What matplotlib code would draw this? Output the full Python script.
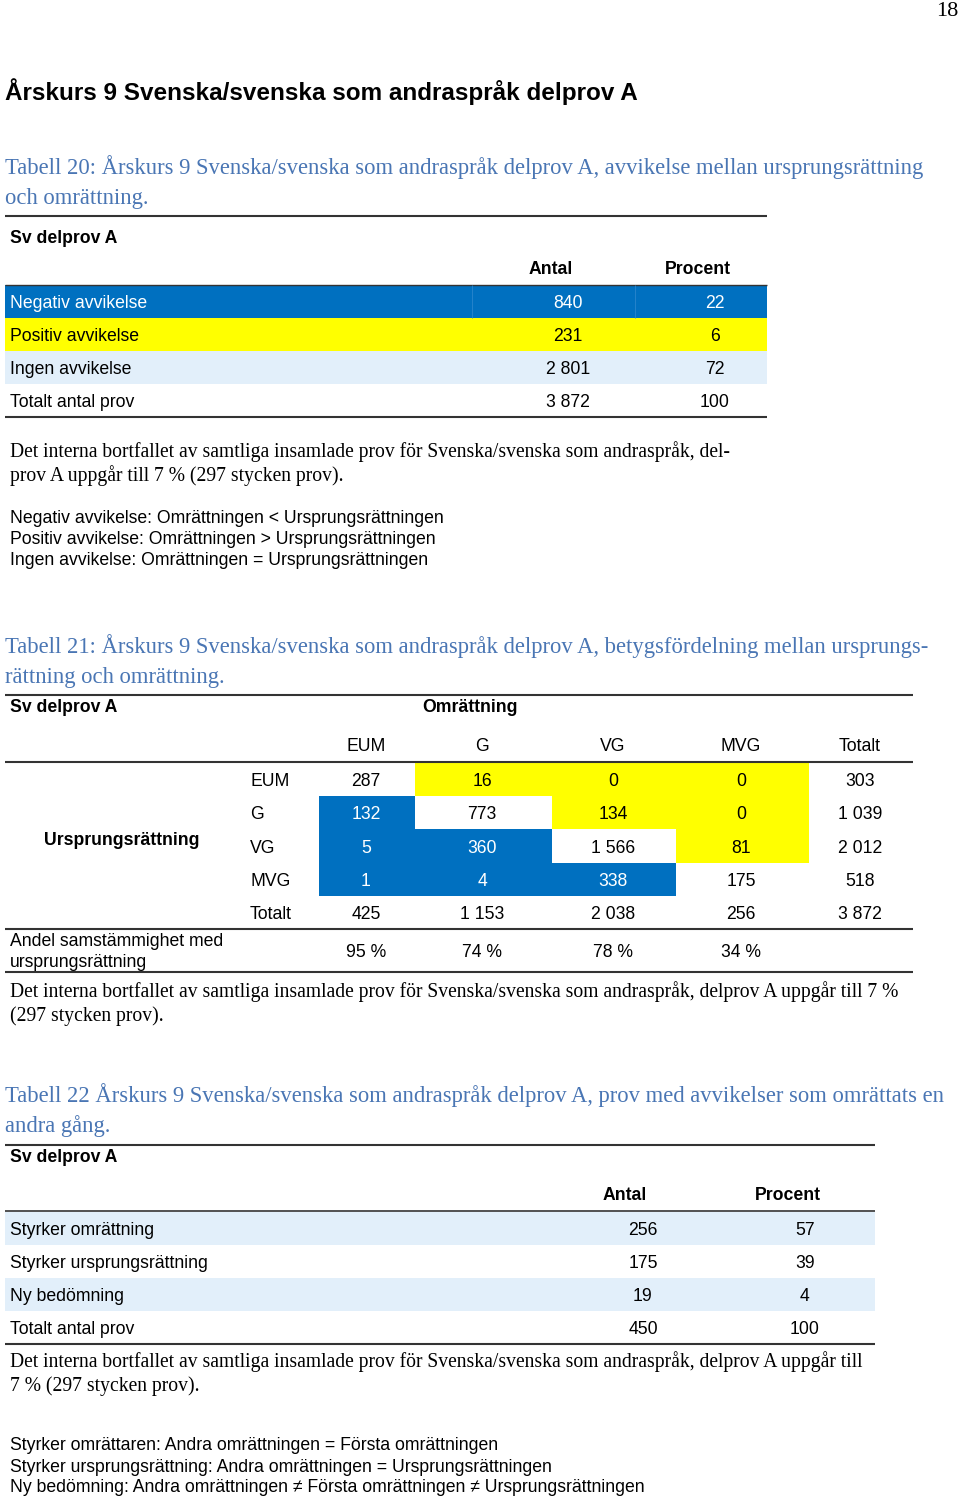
import matplotlib.pyplot as plt
from matplotlib.patches import Rectangle

SANS = ['Liberation Sans', 'DejaVu Sans']
SERIF = ['Liberation Serif', 'DejaVu Serif']
BLUE = '#0070C0'
YELLOW = '#FFFF00'
LIGHT = '#E2EFFA'
CAPTION = '#4A76B4'
RULE = '#333333'

### page texts ###
page_no = "18"
heading = "Årskurs 9 Svenska/svenska som andraspråk delprov A"
cap20 = ["Tabell 20: Årskurs 9 Svenska/svenska som andraspråk delprov A, avvikelse mellan ursprungsrättning",
         "och omrättning."]
body20 = ["Det interna bortfallet av samtliga insamlade prov för Svenska/svenska som andraspråk, del-",
          "prov A uppgår till 7 % (297 stycken prov)."]
notes20 = ["Negativ avvikelse: Omrättningen < Ursprungsrättningen",
           "Positiv avvikelse: Omrättningen > Ursprungsrättningen",
           "Ingen avvikelse: Omrättningen = Ursprungsrättningen"]
cap21 = ["Tabell 21: Årskurs 9 Svenska/svenska som andraspråk delprov A, betygsfördelning mellan ursprungs-",
         "rättning och omrättning."]
body21 = ["Det interna bortfallet av samtliga insamlade prov för Svenska/svenska som andraspråk, delprov A uppgår till 7 %",
          "(297 stycken prov)."]
cap22 = ["Tabell 22 Årskurs 9 Svenska/svenska som andraspråk delprov A, prov med avvikelser som omrättats en",
         "andra gång."]
body22 = ["Det interna bortfallet av samtliga insamlade prov för Svenska/svenska som andraspråk, delprov A uppgår till",
          "7 % (297 stycken prov)."]
notes22 = ["Styrker omrättaren: Andra omrättningen = Första omrättningen",
           "Styrker ursprungsrättning: Andra omrättningen = Ursprungsrättningen",
           "Ny bedömning: Andra omrättningen ≠ Första omrättningen ≠ Ursprungsrättningen"]

### table data ###
t20_labels = ["Negativ avvikelse", "Positiv avvikelse", "Ingen avvikelse", "Totalt antal prov"]
t20_antal = [840, 231, 2801, 3872]
t20_procent = [22, 6, 72, 100]

grades = ["EUM", "G", "VG", "MVG"]
t21_matrix = [[287, 16, 0, 0],
              [132, 773, 134, 0],
              [5, 360, 1566, 81],
              [1, 4, 338, 175]]
t21_row_tot = [303, 1039, 2012, 518]
t21_col_tot = [425, 1153, 2038, 256]
t21_total = 3872
t21_agree = [95, 74, 78, 34]

t22_labels = ["Styrker omrättning", "Styrker ursprungsrättning", "Ny bedömning", "Totalt antal prov"]
t22_antal = [256, 175, 19, 450]
t22_procent = [57, 39, 4, 100]

### row fills (style) ###
t20_fills = [BLUE, YELLOW, LIGHT, 'white']
t22_fills = [LIGHT, 'white', LIGHT, 'white']

TS = 12.7   # table font size
DY = 2      # small downward nudge for text centres


def fmt(n):
    return f"{n:,}".replace(",", " ")


fig = plt.figure(figsize=(9.6, 14.99), dpi=100)
ax = fig.add_axes([0, 0, 1, 1])
ax.set_xlim(0, 960)
ax.set_ylim(1499, 0)
ax.axis('off')
renderer = fig.canvas.get_renderer()


def fitted_size(s, width, family, weight='normal'):
    t = ax.text(0, 0, s, fontsize=10, family=family, weight=weight)
    w = t.get_window_extent(renderer).width
    t.remove()
    return 10 * width / w


def txt(x, y, s, size=TS, family=SANS, **kw):
    kw.setdefault('va', 'center')
    return ax.text(x, y + DY, s, fontsize=size, family=family, **kw)


def rule(y, x0, x1, lw=1.5):
    ax.hlines(y, x0, x1, color=RULE, lw=lw)


head_size = fitted_size(heading, 632, SANS, 'bold')
cap_size = fitted_size(cap20[0], 921, SERIF)
body_size = fitted_size(body20[0], 720, SERIF)

txt(958, 9, page_no, size=16, family=SERIF, ha='right')
txt(5, 90, heading, size=head_size, weight='bold')

### Tabell 20 ###
for k, line in enumerate(cap20):
    txt(5, 165 + 31 * k, line, size=cap_size, family=SERIF, color=CAPTION)
rule(216, 5, 767)
txt(10, 236, "Sv delprov A", weight='bold')
txt(551, 267, "Antal", weight='bold', ha='center')
txt(698, 267, "Procent", weight='bold', ha='center')
top, rh = 285, 33
rule(top, 5, 767, lw=1.0)
for i, label in enumerate(t20_labels):
    y0 = top + i * rh
    ax.add_patch(Rectangle((5, y0), 762, rh, fc=t20_fills[i], ec='none'))
    col = 'white' if t20_fills[i] == BLUE else 'black'
    if t20_fills[i] == BLUE:
        ax.vlines([472, 635], y0, y0 + rh, color='#2A86CC', lw=0.6)
    txt(10, y0 + rh / 2, label, color=col)
    txt(568, y0 + rh / 2, fmt(t20_antal[i]), color=col, ha='center')
    txt(715, y0 + rh / 2, fmt(t20_procent[i]), color=col, ha='center')
rule(top + 4 * rh, 5, 767)
for k, line in enumerate(body20):
    txt(10, 450 + 24 * k, line, size=body_size, family=SERIF)
for k, line in enumerate(notes20):
    txt(10, 516 + 21 * k, line)

### Tabell 21 ###
for k, line in enumerate(cap21):
    txt(5, 644 + 31 * k, line, size=cap_size, family=SERIF, color=CAPTION)
rule(695, 5, 913)
txt(10, 705, "Sv delprov A", weight='bold')
txt(470, 705, "Omrättning", weight='bold', ha='center')
col_x = [366, 482, 613, 741]
col_edges = [319, 415, 552, 676, 809]
tot_x = 860
lab_x = 250
for j, g in enumerate(grades):
    txt(col_x[j], 744, g, ha='center')
txt(tot_x, 744, "Totalt", ha='center')
top, rh = 763, 33.2
rule(top - 1, 5, 913)
for i, g in enumerate(grades):
    y0 = top + i * rh
    yc = y0 + rh / 2
    txt(lab_x, yc, g)
    for j, v in enumerate(t21_matrix[i]):
        fill = YELLOW if j > i else (BLUE if j < i else None)
        if fill is not None:
            ax.add_patch(Rectangle((col_edges[j], y0), col_edges[j + 1] - col_edges[j], rh,
                                   fc=fill, ec='none'))
        txt(col_x[j], yc, fmt(v), ha='center', color='white' if fill == BLUE else 'black')
    txt(tot_x, yc, fmt(t21_row_tot[i]), ha='center')
yc = top + 4 * rh + rh / 2
txt(lab_x, yc, "Totalt")
for j, v in enumerate(t21_col_tot):
    txt(col_x[j], yc, fmt(v), ha='center')
txt(tot_x, yc, fmt(t21_total), ha='center')
txt(122, 838, "Ursprungsrättning", weight='bold', ha='center')
rule(929, 5, 913)
txt(10, 939, "Andel samstämmighet med")
txt(10, 960, "ursprungsrättning")
for j, v in enumerate(t21_agree):
    txt(col_x[j], 950, f"{v} %", ha='center')
rule(972, 5, 913)
for k, line in enumerate(body21):
    txt(10, 990 + 24 * k, line, size=body_size, family=SERIF)

### Tabell 22 ###
for k, line in enumerate(cap22):
    txt(5, 1093 + 31 * k, line, size=cap_size, family=SERIF, color=CAPTION)
rule(1145, 5, 875)
txt(10, 1155, "Sv delprov A", weight='bold')
txt(625, 1193, "Antal", weight='bold', ha='center')
txt(788, 1193, "Procent", weight='bold', ha='center')
top, rh = 1212, 33
rule(top - 1, 5, 875, lw=1.2)
for i, label in enumerate(t22_labels):
    y0 = top + i * rh
    ax.add_patch(Rectangle((5, y0), 870, rh, fc=t22_fills[i], ec='none'))
    txt(10, y0 + rh / 2, label)
    txt(643, y0 + rh / 2, fmt(t22_antal[i]), ha='center')
    txt(805, y0 + rh / 2, fmt(t22_procent[i]), ha='center')
rule(top + 4 * rh, 5, 875)
for k, line in enumerate(body22):
    txt(10, 1360 + 24 * k, line, size=body_size, family=SERIF)
for k, line in enumerate(notes22):
    txt(10, 1444 + 21 * k, line)

fig.savefig("out.png", dpi=100)
